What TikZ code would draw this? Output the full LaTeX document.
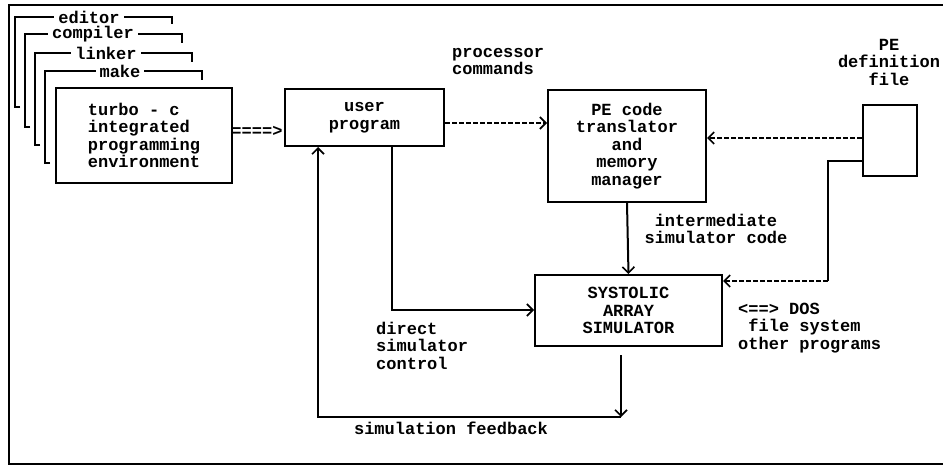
\documentclass[tikz,border=0pt]{standalone}
\usepackage{fontspec}
\newfontfamily\dotfont{Liberation Mono}
\usetikzlibrary{arrows.meta}
\begin{document}
\begin{tikzpicture}[x=1pt,y=-1pt,
  txt/.style={font=\dotfont\bfseries\fontsize{17}{17.5}\selectfont, inner sep=0pt},
  box/.style={draw, line width=2pt, txt},
  solidline/.style={line width=2pt},
  thinline/.style={line width=1.2pt},
  dashline/.style={line width=1.2pt, dash pattern=on 5pt off 2pt},
  tip/.style={-{Straight Barb[length=6pt,width=12pt,line width=1.6pt]}},
  lbl/.style={txt, fill=white, inner xsep=4pt, inner ysep=2pt}
]
\useasboundingbox (0,0) rectangle (943,466);
% outer frame
\draw[line width=1.8pt] (943,5) -- (9,5) -- (9,464) -- (943,464);

% stacked tool brackets
\draw[solidline] (20,107)--(15,107)--(15,17)--(172,17)--(172,24);
\draw[solidline] (30,127)--(25,127)--(25,34)--(182,34)--(182,43);
\draw[solidline] (40,145)--(35,145)--(35,53)--(192,53)--(192,62);
\draw[solidline] (50,163)--(45,163)--(45,71)--(202,71)--(202,80);
\node[lbl] (ed) at (89,17) {editor};
\node[lbl] (co) at (93,34) {compiler};
\node[lbl] (li) at (106,53) {linker};
\node[lbl] (mk) at (120,71) {make};

% boxes
\node[box, fill=white, minimum width=176pt, minimum height=95pt, align=left] (tc) at (144,135.5)
  {turbo - c\\integrated\\programming\\environment};
\node[box, minimum width=159pt, minimum height=57pt, align=center] (user) at (364.5,117.5)
  {user\\program};
\node[box, minimum width=158pt, minimum height=112pt, align=center] (pe) at (627,146)
  {PE code\\translator\\and\\memory\\manager};
\node[box, minimum width=187pt, minimum height=71pt, align=center] (sys) at (628.5,310.5)
  {SYSTOLIC\\ARRAY\\SIMULATOR};
\node[box, minimum width=54pt, minimum height=71pt] (file) at (890,140.5) {};

% text labels
\node[txt] (eq) at (257,131) {====>};
\node[txt, anchor=west, align=left] (proc) at (452,61.5) {processor\\commands};
\node[txt, align=center] (pedef) at (889,62) {PE\\definition\\file};
\node[txt, align=center] (inter) at (716,229) {intermediate\\simulator code};
\node[txt, anchor=west, align=left] (dos) at (738,328) {<==> DOS\\\ file system\\other programs};
\node[txt, anchor=west, align=left] (direct) at (376,345.5) {direct\\simulator\\control};
\node[txt] (feed) at (451,428) {simulation feedback};

% helper coordinates
\coordinate (r123) at (0,123);
\coordinate (r138) at (0,138);
\coordinate (r161) at (0,161);
\coordinate (r281) at (0,281);
\coordinate (r310) at (0,310);
\coordinate (c392) at (392,0);
\coordinate (c318) at (318,0);
\coordinate (k1) at (828,161);
\coordinate (k2) at (828,281);
\coordinate (f1) at (621,417);
\coordinate (f2) at (318,417);
\coordinate (s1) at (621,355);

% connectors
\draw[dashline, tip] (user.east |- r123) -- (pe.west |- r123);
\draw[dashline, tip] (file.west |- r138) -- (pe.east |- r138);
\draw[thinline] (file.west |- r161) -- (k1) -- (k2);
\draw[dashline, tip] (k2) -- (sys.east |- r281);
\draw[solidline, tip] (pe.south) -- (sys.north);
\draw[solidline, tip] (user.south -| c392) -- (c392 |- r310) -- (sys.west |- r310);
\draw[solidline, tip] (s1) -- (f1);
\draw[solidline, tip] (f1) -- (f2) -- (user.south -| c318);
\end{tikzpicture}
\end{document}
